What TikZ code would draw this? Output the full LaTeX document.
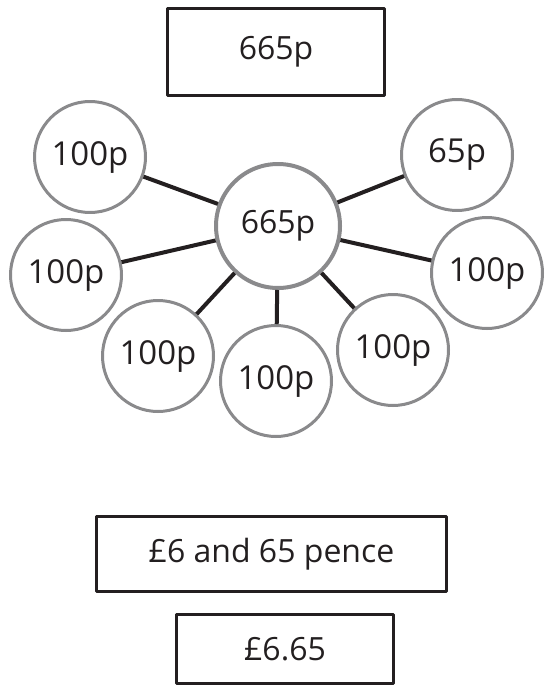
\documentclass[tikz,border=0pt]{standalone}
\usepackage{fontspec}
\setmainfont{Open Sans}
\definecolor{inkdark}{HTML}{231F20}
\definecolor{coingrey}{HTML}{8A8A8C}
\tikzset{
  valuebox/.style={draw=inkdark, line width=3.4pt, inner sep=0pt, text=inkdark},
  coin/.style={circle, draw=coingrey, line width=3pt, minimum size=111pt, inner sep=0pt, text=inkdark, font=\fontsize{33}{36}\selectfont},
  link/.style={draw=inkdark, line width=4pt}
}
\begin{document}
\begin{tikzpicture}[x=1pt, y=-1pt, font=\fontsize{32}{36}\selectfont, line join=round]
			\useasboundingbox (0,0) rectangle (544,687);
			\node[valuebox, minimum width=217pt, minimum height=87pt] (total) at (276,52) {665p};
			\node[coin, line width=4pt, minimum size=124pt, font=\fontsize{32}{36}\selectfont] (mid) at (278,226) {665p};
			\foreach \n/\x/\y/\t in {tl/90/157/100p, l/66/275/100p, bl/158/356/100p, b/276/381/100p, br/393/350/100p, r/487/273/100p, tr/457/155/65p}
				\node[coin] (\n) at (\x,\y) {\t};
			\foreach \n in {tl, l, bl, b, br, r, tr} \draw[link] (mid) -- (\n);
			\node[valuebox, minimum width=350pt, minimum height=75pt, font=\fontsize{32}{36}\selectfont] (words) at (271.5,554) {£6 and 65 pence};
			\node[valuebox, minimum width=217pt, minimum height=69pt, font=\fontsize{32}{36}\selectfont] (decimal) at (285,649) {£6.65};
		\end{tikzpicture}
\end{document}
